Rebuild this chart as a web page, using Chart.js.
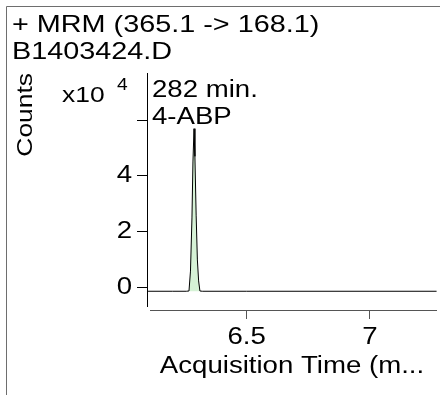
<!DOCTYPE html>
<html>
<head>
<meta charset="utf-8">
<title>MRM chromatogram</title>
<script src="https://cdn.jsdelivr.net/npm/chart.js@4.4.0/dist/chart.umd.min.js"></script>
<style>
  html, body { margin: 0; padding: 0; background: #fff; }
  #wrap { position: relative; width: 440px; height: 395px; }
</style>
</head>
<body>
<div id="wrap"><canvas id="chart" width="440" height="395"></canvas></div>
<script>
// chromatogram trace (time in min, counts)
var timeMin = [6.10, 6.20, 6.255, 6.266, 6.272, 6.278, 6.282, 6.2863, 6.290, 6.295, 6.300, 6.305, 6.3103, 6.32, 6.50, 7.00, 7.27];
var counts  = [-1200, -1200, -1200, -1100, 6000, 25000, 45000, 56900, 47000, 26000, 10000, 2500, -1100, -1200, -1200, -1200, -1200];

// axis ticks
var xTickValues = [6.5, 7];
var yTickValues = [0, 20000, 40000, 60000];
var yTickLabels = ["0", "2", "4", ""];

var titleLines = ["+ MRM (365.1 -> 168.1)", "B1403424.D"];
var peakLabel = ["282 min.", "4-ABP"];

var FONT = "'Liberation Sans', Arial, sans-serif";
// the instrument software uses a wider sans face, so glyphs get stretched along the text direction
var TEXT_STRETCH = 1.2;

var points = timeMin.map(function (t, i) { return { x: t, y: counts[i] }; });

var ctx = document.getElementById("chart").getContext("2d");
var rawFillText = ctx.fillText;
ctx.fillText = function (text, x, y) {
  this.save();
  this.translate(x, y);
  this.scale(TEXT_STRETCH, 1);
  rawFillText.call(this, text, 0, 0);
  this.restore();
};

// frame, axis lines and the small texts that Chart.js has no slot for
var extras = {
  id: "extras",
  beforeDraw: function (chart) {
    var c = chart.ctx;
    c.save();
    c.fillStyle = "#fff";
    c.fillRect(0, 0, chart.width, chart.height);
    c.strokeStyle = "#6e6e6e";
    c.lineWidth = 1;
    c.beginPath();
    c.moveTo(6.5, chart.height);
    c.lineTo(6.5, 6.5);
    c.lineTo(chart.width, 6.5);
    c.stroke();
    c.restore();
  },
  afterDraw: function (chart) {
    var c = chart.ctx;
    var a = chart.chartArea;
    c.save();
    c.lineWidth = 1;
    // y axis line stops short of the x axis
    c.strokeStyle = "#000";
    c.beginPath();
    c.moveTo(Math.round(a.left) + 0.5, a.top);
    c.lineTo(Math.round(a.left) + 0.5, a.bottom - 3);
    c.stroke();
    // x axis line starts a little right of the y axis
    c.strokeStyle = "#555";
    c.beginPath();
    c.moveTo(a.left + 3, Math.round(a.bottom) + 0.5);
    c.lineTo(a.right, Math.round(a.bottom) + 0.5);
    c.stroke();

    c.fillStyle = "#000";
    c.textBaseline = "alphabetic";
    c.textAlign = "left";
    c.font = "22px " + FONT;
    c.fillText("x10", 62, 102);
    c.font = "16px " + FONT;
    c.fillText("4", 117, 90);

    c.font = "23px " + FONT;
    c.fillText(peakLabel[0], a.left + 5, 97);
    c.fillText(peakLabel[1], a.left + 5, 124);
    c.restore();
  }
};

var chart = new Chart(ctx, {
  type: "line",
  data: {
    datasets: [
      {
        label: "MRM",
        data: points,
        borderColor: "#000",
        borderWidth: 1,
        backgroundColor: "#d6f2d6",
        fill: { target: { value: -1200 } },
        pointRadius: 0,
        tension: 0
      }
    ]
  },
  options: {
    responsive: false,
    animation: false,
    layout: { padding: { top: 12, left: 12, right: 3, bottom: 0 } },
    plugins: {
      legend: { display: false },
      tooltip: { enabled: false },
      title: {
        display: true,
        text: titleLines,
        align: "start",
        color: "#000",
        font: { family: FONT, size: 24, weight: "normal", lineHeight: 1.125 },
        padding: { top: 0, bottom: 7 }
      }
    },
    scales: {
      x: {
        type: "linear",
        min: 6.0957,
        max: 7.2717,
        afterBuildTicks: function (scale) {
          scale.ticks = xTickValues.map(function (v) { return { value: v }; });
        },
        afterFit: function (scale) { scale.height = 85; },
        border: { display: false },
        grid: { drawOnChartArea: false, drawTicks: true, tickLength: 9, color: "#555" },
        ticks: {
          color: "#000",
          padding: 5,
          maxRotation: 0,
          font: { family: FONT, size: 23 },
          callback: function (v) { return String(v); }
        },
        title: {
          display: true,
          text: "Acquisition Time (m...",
          color: "#000",
          font: { family: FONT, size: 23 },
          padding: { top: 0, bottom: 15 }
        }
      },
      y: {
        type: "linear",
        min: -7900,
        max: 76800,
        afterBuildTicks: function (scale) {
          scale.ticks = yTickValues.map(function (v) { return { value: v }; });
        },
        afterFit: function (scale) { scale.width = 135; },
        border: { display: false },
        grid: { drawOnChartArea: false, drawTicks: true, tickLength: 10, color: "#000" },
        ticks: {
          color: "#000",
          padding: 5,
          font: { family: FONT, size: 23 },
          callback: function (v) {
            var i = yTickValues.indexOf(v);
            return i >= 0 ? yTickLabels[i] : "";
          }
        },
        title: {
          display: true,
          text: "Counts",
          align: "end",
          color: "#000",
          font: { family: FONT, size: 22 },
          padding: { top: 1, bottom: 0 }
        }
      }
    }
  },
  plugins: [extras]
});
</script>
</body>
</html>
